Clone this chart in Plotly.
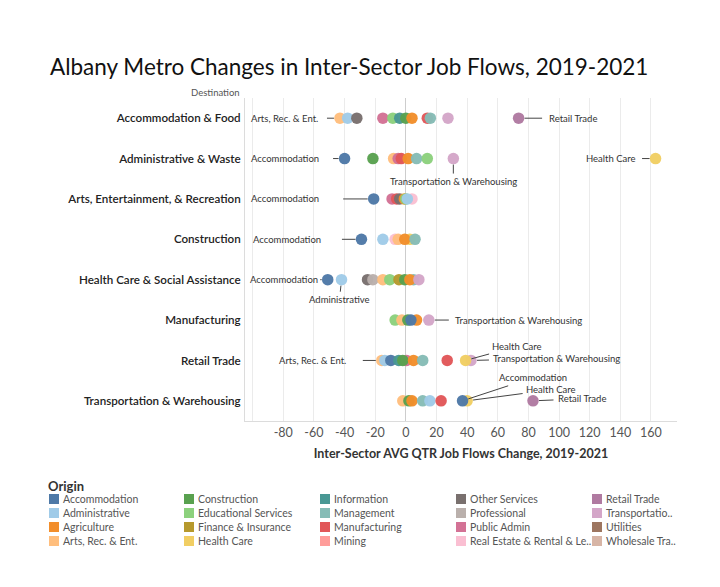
import plotly.graph_objects as go

# ---------------- data ----------------
destinations = [
    "Accommodation & Food",
    "Administrative & Waste",
    "Arts, Entertainment, & Recreation",
    "Construction",
    "Health Care & Social Assistance",
    "Manufacturing",
    "Retail Trade",
    "Transportation & Warehousing",
]

origins = [
    "Accommodation", "Administrative", "Agriculture", "Arts, Rec. & Ent.",
    "Construction", "Educational Services", "Finance & Insurance", "Health Care",
    "Information", "Management", "Manufacturing", "Mining",
    "Other Services", "Professional", "Public Admin", "Real Estate & Rental & Leasing",
    "Retail Trade", "Transportation & Warehousing", "Utilities", "Wholesale Trade",
]
origin_legend_labels = [
    "Accommodation", "Administrative", "Agriculture", "Arts, Rec. & Ent.",
    "Construction", "Educational Services", "Finance & Insurance", "Health Care",
    "Information", "Management", "Manufacturing", "Mining",
    "Other Services", "Professional", "Public Admin", "Real Estate & Rental & Le..",
    "Retail Trade", "Transportatio..", "Utilities", "Wholesale Tra..",
]
origin_colors = [
    "#4e79a7", "#a0cbe8", "#f28e2b", "#ffbe7d",
    "#59a14f", "#8cd17d", "#b6992d", "#f1ce63",
    "#499894", "#86bcb6", "#e15759", "#ff9d9a",
    "#79706e", "#bab0ac", "#d37295", "#fabfd2",
    "#b07aa1", "#d4a6c8", "#9d7660", "#d7b5a6",
]

# per destination: origin of each flow and its change value (drawn in list order)
acc_food_origins = ["Arts, Rec. & Ent.", "Administrative", "Other Services", "Public Admin",
                    "Educational Services", "Information", "Construction", "Agriculture",
                    "Manufacturing", "Management", "Transportation & Warehousing", "Retail Trade"]
acc_food_values = [-43, -38, -32, -15, -8.5, -4, 0, 4, 14, 16, 27.5, 73.6]

admin_origins = ["Accommodation", "Construction", "Arts, Rec. & Ent.", "Public Admin",
                 "Manufacturing", "Agriculture", "Management", "Educational Services",
                 "Transportation & Warehousing", "Health Care"]
admin_values = [-40, -21.5, -8, -5, -3, 1.5, 7, 14, 31, 163]

arts_origins = ["Accommodation", "Public Admin", "Manufacturing", "Other Services",
                "Real Estate & Rental & Leasing", "Agriculture", "Educational Services",
                "Administrative"]
arts_values = [-21, -9, -6, -4, 4, -1, 0, 1]

constr_origins = ["Accommodation", "Administrative", "Real Estate & Rental & Leasing",
                  "Arts, Rec. & Ent.", "Health Care", "Agriculture", "Management"]
constr_values = [-29, -15, -7, -5, 2.6, -0.7, 6]

health_origins = ["Accommodation", "Administrative", "Other Services", "Professional",
                  "Arts, Rec. & Ent.", "Educational Services", "Finance & Insurance",
                  "Construction", "Management", "Agriculture", "Transportation & Warehousing"]
health_values = [-51, -42, -25, -21.5, -15, -10.5, -4.5, -0.7, 5, 2.6, 8.5]

manuf_origins = ["Educational Services", "Arts, Rec. & Ent.", "Construction",
                 "Agriculture", "Accommodation", "Transportation & Warehousing"]
manuf_values = [-7, -2.6, 1.3, 7, 3.3, 15]

retail_origins = ["Arts, Rec. & Ent.", "Administrative", "Accommodation", "Information",
                  "Public Admin", "Construction", "Agriculture", "Management",
                  "Manufacturing", "Transportation & Warehousing", "Health Care"]
retail_values = [-15.7, -13.7, -9.8, -4.6, 0.5, -2, 5, 11, 27, 42.5, 39]

transp_origins = ["Arts, Rec. & Ent.", "Construction", "Agriculture", "Management",
                  "Administrative", "Manufacturing", "Health Care", "Accommodation",
                  "Retail Trade"]
transp_values = [-2, 2, 4, 11, 15.7, 23, 40, 37, 83]

row_origins = [acc_food_origins, admin_origins, arts_origins, constr_origins,
               health_origins, manuf_origins, retail_origins, transp_origins]
row_values = [acc_food_values, admin_values, arts_values, constr_values,
              health_values, manuf_values, retail_values, transp_values]

x_tick_values = [-100, -80, -60, -40, -20, 0, 20, 40, 60, 80, 100, 120, 140, 160]
x_tick_labels = ["", "-80", "-60", "-40", "-20", "0", "20", "40", "60", "80",
                 "100", "120", "140", "160"]

# ---------------- layout helpers ----------------
OFF = 8  # page body margin in the browser
W, H = 720 - OFF, 587 - OFF
L, R, T, B = 245 - OFF, 43, 98 - OFF, 166
PW, PH = W - L - R, H - T - B
FONT = "Lato, 'Open Sans', sans-serif"


def px_x(px):
    """screen x pixel -> paper fraction"""
    return (px - OFF - L) / PW


def px_y(py):
    """screen y pixel -> paper fraction"""
    return (H - B - (py - OFF)) / PH


color_of = dict(zip(origins, origin_colors))

fig = go.Figure()
for dest, ors, vals in zip(destinations, row_origins, row_values):
    fig.add_trace(go.Scatter(
        x=vals,
        y=[dest] * len(vals),
        mode="markers",
        marker=dict(size=11.5, color=[color_of[o] for o in ors], opacity=0.97,
                    line=dict(width=0)),
        text=ors,
        hovertemplate="%{text}<br>%{x}<extra>" + dest + "</extra>",
        showlegend=False,
    ))

# mark labels with leader lines: (destination, origin, dx, dy, pad)
mark_labels = [
    ("Accommodation & Food", "Arts, Rec. & Ent.", -55, 0, 8),
    ("Accommodation & Food", "Retail Trade", 54, 0, 6),
    ("Administrative & Waste", "Accommodation", -60, 0, 14),
    ("Administrative & Waste", "Health Care", -45, 0, 6),
    ("Administrative & Waste", "Transportation & Warehousing", 0, 23, 2),
    ("Arts, Entertainment, & Recreation", "Accommodation", -89, 0, 24),
    ("Construction", "Accommodation", -74, 0, 20),
    ("Health Care & Social Assistance", "Accommodation", -44, 0, 2),
    ("Health Care & Social Assistance", "Administrative", -2, 20, 2),
    ("Manufacturing", "Transportation & Warehousing", 90, 0, 6),
    ("Retail Trade", "Arts, Rec. & Ent.", -69, 0, 16),
    ("Retail Trade", "Health Care", 51, -14, 2),
    ("Retail Trade", "Transportation & Warehousing", 86, -2, 4),
    ("Transportation & Warehousing", "Accommodation", 70, -23, 2),
    ("Transportation & Warehousing", "Health Care", 84, -11, 3),
    ("Transportation & Warehousing", "Retail Trade", 49, -2, 4),
]
for dest, org, dx, dy, pad in mark_labels:
    i = destinations.index(dest)
    v = row_values[i][row_origins[i].index(org)]
    fig.add_annotation(
        x=v, y=dest, xref="x", yref="y", text=org,
        showarrow=True, arrowhead=0, arrowwidth=1, arrowcolor="#444",
        ax=dx, ay=dy, standoff=6, borderpad=pad,
        font=dict(family=FONT, size=9.5, color="#333"),
    )

# "Destination" header
fig.add_annotation(x=px_x(242), y=px_y(92), xref="paper", yref="paper",
                   text="Destination", showarrow=False, xanchor="right",
                   yanchor="middle", font=dict(family=FONT, size=9.5, color="#555"))

# Legend (drawn manually, column-major, 5 columns x 4 rows)
fig.add_annotation(x=px_x(46), y=px_y(486), xref="paper", yref="paper",
                   text="<b>Origin</b>", showarrow=False, xanchor="left",
                   yanchor="middle", font=dict(family=FONT, size=13, color="#333"))
col_x = [49, 184, 320, 456, 592]
row_y = [499, 513, 527, 541]
for k, (lab, col) in enumerate(zip(origin_legend_labels, origin_colors)):
    cx = col_x[k // 4]
    cy = row_y[k % 4]
    fig.add_shape(type="rect", xref="paper", yref="paper",
                  x0=px_x(cx), x1=px_x(cx + 10), y0=px_y(cy + 5), y1=px_y(cy - 5),
                  fillcolor=col, line=dict(width=0))
    fig.add_annotation(x=px_x(cx + 12), y=px_y(cy), xref="paper", yref="paper",
                       text=lab, showarrow=False, xanchor="left", yanchor="middle",
                       font=dict(family=FONT, size=10.5, color="#555"))

fig.update_layout(
    width=W, height=H,
    margin=dict(l=L, r=R, t=T, b=B),
    paper_bgcolor="white", plot_bgcolor="white",
    font=dict(family=FONT),
    title=dict(text="Albany Metro Changes in Inter-Sector Job Flows, 2019-2021",
               x=(50 - OFF) / W, xanchor="left", xref="container",
               y=1 - (67 - OFF) / H, yanchor="middle", yref="container",
               font=dict(family=FONT, size=22.5, color="#111")),
    showlegend=False,
)
fig.update_xaxes(
    range=[-105, 177], tickvals=x_tick_values, ticktext=x_tick_labels,
    showgrid=True, gridcolor="#ebebeb", gridwidth=1,
    zeroline=True, zerolinecolor="#cdcdcd", zerolinewidth=1,
    showline=True, linecolor="#dcdcdc", linewidth=1,
    ticks="", tickfont=dict(family=FONT, size=12.5, color="#555"),
    title=dict(text="<b>Inter-Sector AVG QTR Job Flows Change, 2019-2021</b>",
               font=dict(family=FONT, size=12.5, color="#333"), standoff=10),
)
fig.update_yaxes(
    type="category", categoryorder="array", categoryarray=destinations,
    range=[7.5, -0.5], showgrid=False, zeroline=False,
    showline=True, linecolor="#dcdcdc", linewidth=1,
    ticks="", ticklabelstandoff=1,
    tickfont=dict(family=FONT, size=11.6, color="#222", weight=600),
)

fig.write_html("out.html")
